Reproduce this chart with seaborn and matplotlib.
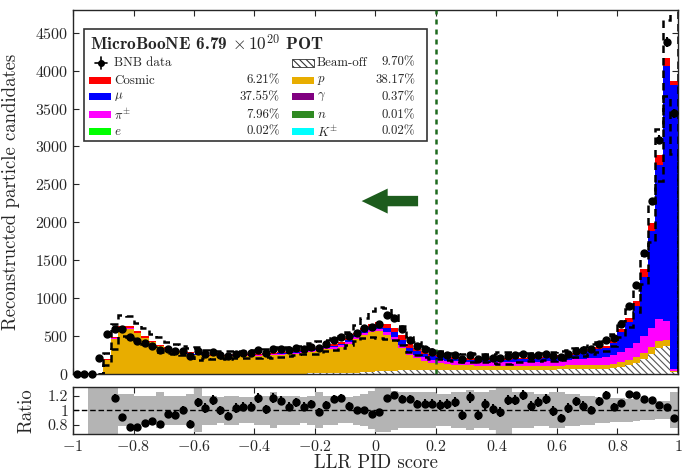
import numpy as np
import pandas as pd
import matplotlib
matplotlib.use("Agg")
import matplotlib.pyplot as plt
import seaborn as sns
from matplotlib.patches import Rectangle, FancyArrowPatch

sns.set_style("ticks")
plt.rcParams["font.family"] = "cmr10"
plt.rcParams["mathtext.fontset"] = "cm"
plt.rcParams["axes.formatter.use_mathtext"] = True
plt.rcParams["axes.unicode_minus"] = True
plt.rcParams["hatch.linewidth"] = 0.8

# 80 bins from -1 to 1
edges = np.linspace(-1, 1, 81)
centers = 0.5 * (edges[:-1] + edges[1:])

# MC components, events per bin
beamoff = [0, 0, 0, 0, 4, 4, 4, 4, 4, 4, 4, 4, 4, 4, 4, 4, 4, 4, 4, 4,
           4, 6, 6, 6, 6, 6, 6, 6, 6, 6, 6, 8, 9, 10, 11, 12, 14, 18, 22, 28,
           33, 38, 43, 48, 52, 54, 55, 55, 55, 55, 55, 55, 55, 55, 55, 55, 55, 55, 55, 55,
           55, 56, 57, 58, 60, 62, 64, 66, 68, 70, 72, 80, 95, 120, 150, 200, 260, 340, 370, 30]
proton = [0, 0, 0, 0, 186, 462, 600, 595, 533, 470, 412, 359, 325, 306, 282, 263, 246, 238, 231, 227,
          229, 229, 233, 234, 236, 241, 244, 250, 254, 262, 272, 284, 290, 314, 323, 345, 384, 441, 493, 524,
          530, 482, 400, 299, 195, 154, 121, 91, 84, 75, 67, 61, 58, 55, 52, 51, 51, 50, 49, 49,
          49, 49, 49, 49, 47, 51, 51, 52, 52, 50, 50, 55, 60, 65, 70, 80, 90, 100, 80, 15]
pion = [0, 0, 0, 0, 0, 2, 3, 3, 3, 3, 3, 3, 3, 3, 3, 3, 4, 4, 4, 5,
        5, 6, 6, 7, 7, 8, 8, 9, 10, 11, 12, 13, 14, 16, 17, 19, 21, 23, 25, 28,
        30, 35, 40, 40, 40, 42, 44, 45, 44, 43, 43, 43, 44, 45, 46, 47, 48, 50, 52, 54,
        56, 58, 60, 63, 66, 70, 78, 84, 88, 90, 100, 115, 135, 160, 185, 220, 260, 280, 250, 25]
muon = [0, 0, 0, 0, 0, 2, 3, 3, 3, 3, 3, 3, 3, 3, 3, 3, 4, 4, 4, 4,
        5, 5, 5, 6, 6, 7, 8, 9, 10, 11, 12, 14, 15, 17, 19, 22, 26, 30, 35, 40,
        45, 55, 65, 65, 58, 55, 50, 45, 40, 37, 35, 34, 33, 33, 33, 33, 34, 35, 36, 37,
        38, 40, 42, 45, 50, 55, 62, 70, 90, 115, 120, 165, 270, 344, 497, 780, 1275, 2040, 3360, 3745]
cosmic = [0, 0, 0, 0, 10, 20, 25, 25, 22, 20, 18, 16, 15, 14, 13, 12, 12, 12, 12, 12,
          12, 12, 12, 12, 13, 13, 14, 14, 15, 15, 16, 16, 17, 18, 20, 22, 25, 28, 30, 35,
          42, 55, 62, 58, 45, 35, 30, 26, 22, 22, 22, 22, 22, 22, 22, 22, 22, 22, 22, 22,
          22, 22, 22, 22, 22, 24, 25, 26, 28, 28, 30, 33, 35, 45, 65, 100, 110, 130, 110, 50]

# fractional systematic uncertainty on the MC
mc_err = [0, 0, 1.0, 1.0, 0.4, 0.34, 0.22, 0.22, 0.2, 0.2, 0.2, 0.25, 0.2, 0.2, 0.2, 0.22, 0.3, 0.2, 0.2, 0.18,
          0.2, 0.2, 0.18, 0.18, 0.2, 0.2, 0.25, 0.2, 0.2, 0.2, 0.18, 0.2, 0.25, 0.2, 0.2, 0.18, 0.18, 0.2, 0.22, 0.26,
          0.3, 0.3, 0.27, 0.25, 0.25, 0.25, 0.25, 0.25, 0.22, 0.22, 0.25, 0.25, 0.28, 0.25, 0.25, 0.28, 0.35, 0.35, 0.25, 0.25,
          0.25, 0.22, 0.22, 0.25, 0.25, 0.22, 0.22, 0.2, 0.2, 0.18, 0.18, 0.17, 0.17, 0.16, 0.15, 0.14, 0.13, 0.12, 0.12, 0.25]

# BNB data
data = [0, 0, 0, 210, 525, 590, 590, 490, 440, 410, 375, 315, 332, 308, 305, 232, 300, 270, 290, 252,
        235, 266, 275, 278, 313, 278, 328, 325, 310, 338, 334, 362, 338, 401, 448, 491, 498, 540, 605, 622,
        660, 778, 738, 592, 452, 371, 327, 286, 262, 251, 246, 200, 250, 195, 225, 212, 206, 242, 244, 263,
        233, 250, 265, 235, 218, 260, 308, 310, 330, 390, 448, 470, 655, 895, 1170, 1600, 2275, 3090, 4380, 3440]

# data / MC ratio
ratio = [np.nan, np.nan, np.nan, np.nan, np.nan, 1.17, 0.90, 0.77, 0.77, 0.82, 0.85, 0.81, 0.95, 0.93, 1.00, 0.81, 1.11, 1.03, 1.14, 1.00,
         0.92, 1.03, 1.05, 1.05, 1.17, 1.01, 1.17, 1.13, 1.05, 1.11, 1.05, 1.08, 0.98, 1.07, 1.15, 1.17, 1.06, 1.00, 1.00, 0.95,
         0.97, 1.17, 1.21, 1.16, 1.16, 1.09, 1.09, 1.09, 1.07, 1.08, 1.11, 0.93, 1.18, 0.93, 1.08, 1.02, 0.98, 1.14, 1.14, 1.21,
         1.06, 1.11, 1.15, 0.99, 0.89, 1.03, 1.12, 1.06, 1.00, 1.12, 1.21, 1.05, 1.10, 1.22, 1.21, 1.16, 1.14, 1.07, 1.05, 0.89]

comp_names = ["Cosmic", "mu", "pi", "p", "Beam-off"]
comp_colors = {"Cosmic": "#ff0000", "mu": "#0000ff", "pi": "#ff00ff", "p": "#e8ad00", "Beam-off": "#ffffff"}
comp_values = {"Cosmic": cosmic, "mu": muon, "pi": pion, "p": proton, "Beam-off": beamoff}

df = pd.DataFrame({
    "score": np.tile(centers, len(comp_names)),
    "weight": np.concatenate([comp_values[c] for c in comp_names]).astype(float),
    "comp": np.repeat(comp_names, len(centers)),
})

mc = np.sum([np.array(comp_values[c], dtype=float) for c in comp_names], axis=0)
err = np.array(mc_err)
data = np.array(data, dtype=float)
ratio = np.array(ratio)

fig = plt.figure(figsize=(6.9, 4.74), dpi=100)
ax = fig.add_axes([0.1058, 0.211, 0.8768, 0.768])
ax_r = fig.add_axes([0.1058, 0.0844, 0.8768, 0.0991])

sns.histplot(data=df, x="score", weights="weight", hue="comp", hue_order=comp_names,
             bins=80, binrange=(-1, 1), multiple="stack", element="step", palette=comp_colors,
             alpha=1, linewidth=0, legend=False, ax=ax)

for coll in ax.collections:
    fc = coll.get_facecolor()
    if len(fc) and fc[0][0] > 0.99 and fc[0][1] > 0.99 and fc[0][2] > 0.99:
        coll.set_hatch("\\\\\\\\\\")
        coll.set_edgecolor("#555555")
        coll.set_linewidth(0)

# MC uncertainty envelope
ax.stairs(mc * (1 + err), edges, color="black", ls=(0, (3, 2)), lw=1.8, zorder=3)
ax.stairs(mc * (1 - err), edges, color="black", ls=(0, (3, 2)), lw=1.8, zorder=3)

ax.errorbar(centers, data, yerr=np.sqrt(data), fmt="o", color="black", ms=5,
            elinewidth=1.5, capsize=0, clip_on=False, zorder=5)

ax.axvline(0.2, color="#1e6b1e", ls=(0, (2, 2)), lw=1.8, zorder=4)
arrow = FancyArrowPatch((0.15, 2280), (-0.055, 2280),
                        arrowstyle="simple,head_length=1.25,head_width=1.2,tail_width=0.5",
                        mutation_scale=15, color="#1d5c1d", lw=0, zorder=4)
ax.add_patch(arrow)

ax.set_xlim(-1, 1)
ax.set_ylim(0, 4800)
ax.set_yticks(np.arange(0, 4501, 500))
ax.set_xticks(np.arange(-1, 1.01, 0.2))
ax.tick_params(labelbottom=False)
ax.set_xlabel("")
ax.set_ylabel("Reconstructed particle candidates", fontsize=13.5)
ax.yaxis.set_label_coords(-0.088, 0.5)

# legend box drawn by hand
tr = ax.transAxes
ax.add_patch(Rectangle((0.018, 0.640), 0.567, 0.308, transform=tr, facecolor="white",
                       edgecolor="#333333", lw=1.2, zorder=6))
ax.text(0.028, 0.909, r"MicroBooNE 6.79 $\times\,\mathbf{10^{20}}$ POT", transform=tr,
        fontsize=12.5, family="cmb10", va="center", ha="left", zorder=7)

row_y = [0.855, 0.806, 0.761, 0.712, 0.666]
ax.plot([0.046], [row_y[0]], marker="o", ms=4, color="black", transform=tr, zorder=7)
ax.plot([0.036, 0.056], [row_y[0], row_y[0]], color="black", lw=1.2, transform=tr, zorder=7)
ax.plot([0.046, 0.046], [row_y[0] - 0.017, row_y[0] + 0.017], color="black", lw=1.2, transform=tr, zorder=7)
ax.text(0.068, row_y[0], "BNB data", transform=tr, fontsize=9.3, va="center", zorder=7)

entries = [
    (1, 0, "Beam-off", "9.70%", None),
    (0, 1, "Cosmic", "6.21%", "#ff0000"),
    (0, 2, r"$\mu$", "37.55%", "#0000ff"),
    (0, 3, r"$\pi^{\pm}$", "7.96%", "#ff00ff"),
    (0, 4, r"$e$", "0.02%", "#00ff00"),
    (1, 1, r"$p$", "38.17%", "#e8ad00"),
    (1, 2, r"$\gamma$", "0.37%", "#800080"),
    (1, 3, r"$n$", "0.01%", "#2f8a22"),
    (1, 4, r"$K^{\pm}$", "0.02%", "#00ffff"),
]
col_x = [(0.026, 0.068, 0.342), (0.362, 0.403, 0.566)]
for col, row, name, pct, color in entries:
    hx, tx, px = col_x[col]
    y = row_y[row]
    if color is None:
        ax.add_patch(Rectangle((hx, y - 0.011), 0.037, 0.022, transform=tr, facecolor="white",
                               edgecolor="#333333", hatch="\\\\\\\\\\", lw=0.6, zorder=7))
    else:
        ax.add_patch(Rectangle((hx, y - 0.0095), 0.037, 0.019, transform=tr, facecolor=color,
                               edgecolor="none", zorder=7))
    ax.text(tx, y, name, transform=tr, fontsize=9.3, va="center", ha="left", zorder=7)
    ax.text(px, y, pct, transform=tr, fontsize=9.3, va="center", ha="right", zorder=7)

# ratio panel
ax_r.stairs(1 + err, edges, baseline=1 - err, fill=True, color="#b4b4b4", lw=0, zorder=1)
ax_r.axhline(1, color="black", ls=(0, (4, 2)), lw=1, zorder=2)
ok = ~np.isnan(ratio)
ax_r.errorbar(centers[ok], ratio[ok], yerr=ratio[ok] / np.sqrt(data[ok]), fmt="o", color="black",
              ms=5, elinewidth=1.5, capsize=0, zorder=3)
ax_r.set_xlim(-1, 1)
ax_r.set_ylim(0.67, 1.32)
ax_r.set_yticks([0.8, 1.0, 1.2], ["0.8", "1", "1.2"])
xt = np.round(np.arange(-1, 1.01, 0.2), 1)
ax_r.set_xticks(xt, [r"$-1$", r"$-0.8$", r"$-0.6$", r"$-0.4$", r"$-0.2$", r"$0$",
                     r"$0.2$", r"$0.4$", r"$0.6$", r"$0.8$", r"$1$"])
ax_r.set_ylabel("Ratio", fontsize=13.5)
ax_r.yaxis.set_label_coords(-0.062, 0.5)
ax_r.set_xlabel("LLR PID score", fontsize=13.5, labelpad=0)

for a in (ax, ax_r):
    a.tick_params(direction="in", top=True, right=True, length=4, width=0.8, labelsize=11.5)
    for s in a.spines.values():
        s.set_linewidth(1.0)

fig.savefig("out.png", dpi=100)
